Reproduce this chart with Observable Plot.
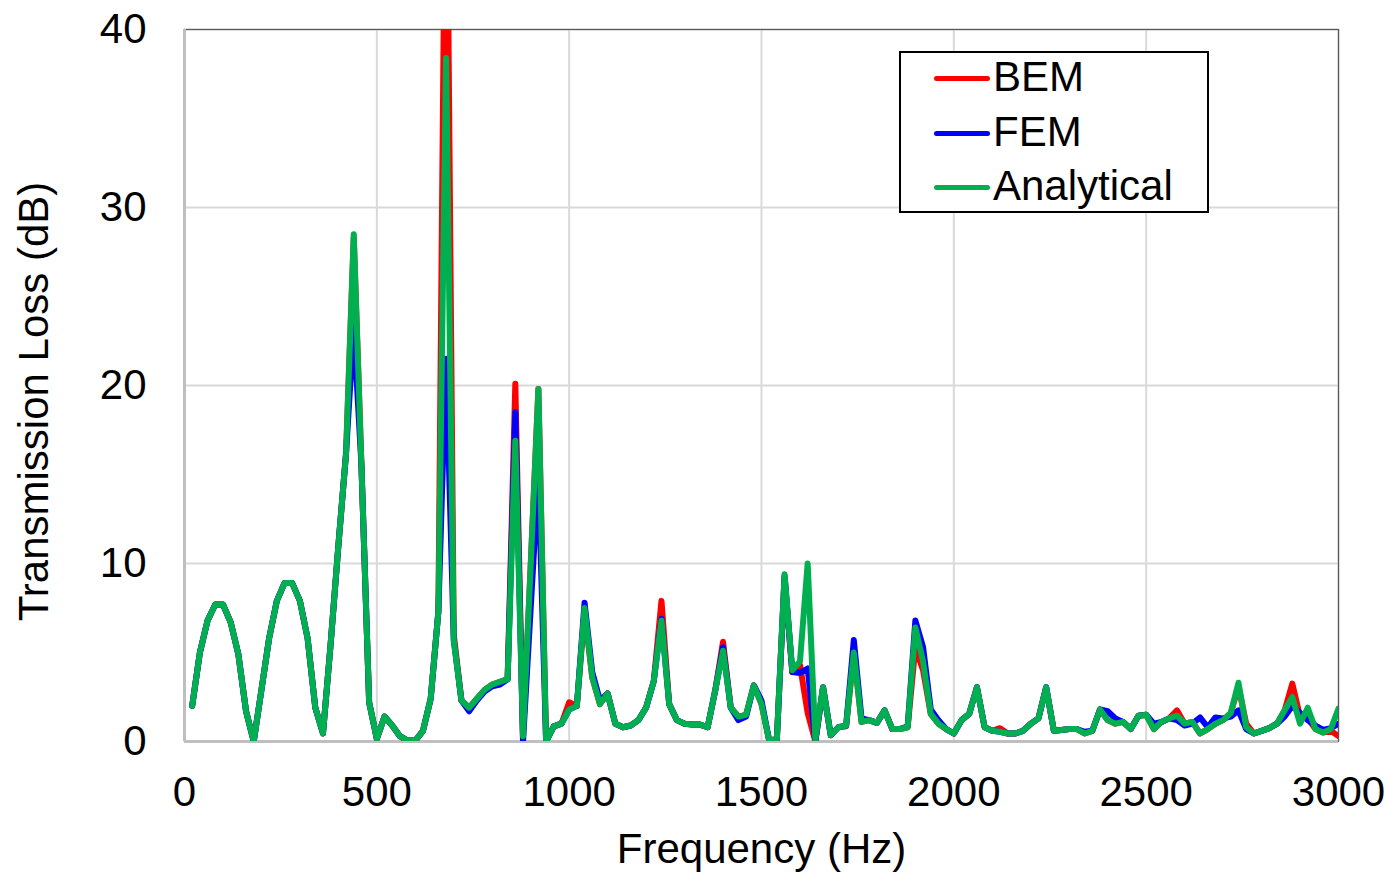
<!DOCTYPE html>
<html>
<head>
<meta charset="utf-8">
<script src="https://cdn.jsdelivr.net/npm/d3@7"></script>
<script src="https://cdn.jsdelivr.net/npm/@observablehq/plot@0.6"></script>
<style>
  html, body { margin: 0; padding: 0; background: #fff; }
  #wrap { position: relative; width: 1389px; height: 873px; font-family: "Liberation Sans", Arial, sans-serif; }
  #legend { position: absolute; left: 899px; top: 51px; width: 306px; height: 158px; border: 2px solid #000; background: #fff; box-sizing: content-box; }
  .item { position: absolute; left: 0; height: 50px; display: flex; align-items: center; }
  .swatch { position: absolute; left: 33px; width: 56px; height: 5px; border-radius: 3px; }
  .lbl { position: absolute; left: 92px; top: 2px; font-size: 42px; line-height: 42px; color: #000; white-space: nowrap; }
</style>
</head>
<body>
<div id="wrap"></div>
<script>
const frequency = [20,40,60,80,100,120,140,160,180,200,220,240,260,280,300,320,340,360,380,400,
420,440,460,480,500,520,540,560,580,600,620,640,660,680,700,720,740,760,780,800,
820,840,860,880,900,920,940,960,980,1000,1020,1040,1060,1080,1100,1120,1140,1160,1180,1200,
1220,1240,1260,1280,1300,1320,1340,1360,1380,1400,1420,1440,1460,1480,1500,1520,1540,1560,1580,1600,
1620,1640,1660,1680,1700,1720,1740,1760,1780,1800,1820,1840,1860,1880,1900,1920,1940,1960,1980,2000,
2020,2040,2060,2080,2100,2120,2140,2160,2180,2200,2220,2240,2260,2280,2300,2320,2340,2360,2380,2400,
2420,2440,2460,2480,2500,2520,2540,2560,2580,2600,2620,2640,2660,2680,2700,2720,2740,2760,2780,2800,
2820,2840,2860,2880,2900,2920,2940,2960,2980,3000];

const analytical = [2.0,5.0,6.8,7.7,7.7,6.7,4.9,1.7,0.0,2.9,5.8,7.9,8.9,8.9,7.9,5.8,1.9,0.45,5.5,11,
16.2,28.5,15.5,2.2,0.15,1.4,0.9,0.3,0.05,0.05,0.6,2.4,7.3,38.4,5.7,2.3,1.9,2.4,2.9,3.2,
3.35,3.5,16.9,0.3,9.9,19.8,0.0,0.85,1.0,1.8,2.0,7.5,3.6,2.1,2.7,1.0,0.8,0.9,1.2,1.9,
3.4,6.8,2.1,1.2,1.0,0.95,0.95,0.8,2.9,5.1,1.9,1.4,1.5,3.15,2.1,0.05,0.15,9.4,4.0,4.5,
10.0,0.1,3.05,0.35,0.8,0.9,5.0,1.1,1.2,1.05,1.75,0.7,0.7,0.8,6.4,4.5,1.55,1.0,0.7,0.45,
1.2,1.55,3.05,0.8,0.6,0.55,0.45,0.45,0.6,1.0,1.3,3.05,0.6,0.65,0.7,0.7,0.45,0.6,1.8,1.2,
1.0,1.1,0.7,1.45,1.5,0.7,1.1,1.3,1.45,1.0,1.1,0.45,0.7,1.0,1.2,1.6,3.3,0.8,0.45,0.6,
0.75,1.0,1.75,2.5,1.0,1.9,0.7,0.5,0.7,1.85];

const bem = [2.0,5.0,6.8,7.7,7.7,6.7,4.9,1.7,0.0,2.9,5.8,7.9,8.9,8.9,7.9,5.8,1.9,0.45,5.5,11,
16.2,28.3,15.5,2.2,0.15,1.4,0.9,0.3,0.05,0.05,0.6,2.4,7.3,55,6.0,2.3,1.9,2.4,2.9,3.2,
3.35,3.5,20.1,0.2,9.9,19.8,0.0,0.85,1.0,2.2,2.0,7.3,3.6,2.1,2.7,1.0,0.8,0.9,1.2,1.9,
3.4,7.9,2.1,1.2,1.0,0.95,0.95,0.8,2.9,5.6,1.9,1.4,1.5,3.15,2.1,0.05,0.15,9.2,3.9,4.3,
1.6,0.0,3.05,0.35,0.8,0.85,5.0,1.1,1.2,1.05,1.75,0.7,0.7,0.8,5.3,4.0,1.55,1.0,0.7,0.45,
1.2,1.55,3.05,0.8,0.6,0.75,0.45,0.45,0.6,1.0,1.3,3.05,0.6,0.65,0.7,0.7,0.45,0.6,1.8,1.2,
1.0,1.1,0.7,1.45,1.5,0.7,1.1,1.3,1.75,1.0,1.1,0.45,0.7,1.0,1.2,1.6,3.1,1.0,0.45,0.6,
0.75,1.0,1.75,3.25,1.4,1.3,0.7,0.5,0.6,0.3];

const fem = [2.0,5.0,6.8,7.7,7.7,6.7,4.9,1.7,0.0,2.9,5.8,7.9,8.9,8.9,7.9,5.8,1.9,0.45,5.5,11,
16.2,23.3,15.5,2.2,0.15,1.4,0.9,0.3,0.05,0.05,0.6,2.4,7.3,21.5,5.7,2.3,1.7,2.3,2.8,3.1,
3.2,3.5,18.5,0.0,7.5,15,0.0,0.85,1.0,1.8,2.0,7.8,3.9,2.3,2.7,1.0,0.8,0.9,1.2,1.9,
3.4,6.9,2.1,1.2,1.0,0.95,0.95,0.8,2.9,5.3,1.9,1.2,1.4,3.15,2.3,0.05,0.15,9.3,3.9,3.85,
4.1,0.0,3.05,0.35,0.8,0.9,5.7,1.3,1.2,1.05,1.75,0.7,0.7,0.85,6.8,5.3,1.8,1.2,0.7,0.45,
1.2,1.55,3.05,0.8,0.6,0.55,0.45,0.45,0.6,1.0,1.3,3.05,0.6,0.65,0.7,0.7,0.55,0.6,1.8,1.7,
1.3,1.1,0.7,1.45,1.5,1.0,1.1,1.3,1.2,0.9,1.0,1.35,0.8,1.35,1.3,1.4,1.75,0.7,0.45,0.6,
0.75,1.0,1.4,2.0,1.6,1.2,0.9,0.65,0.75,1.0];

const seriesNames = ["BEM", "FEM", "Analytical"];
const seriesColors = ["#ff0000", "#0000ff", "#00b050"];
const xTicks = [0, 500, 1000, 1500, 2000, 2500, 3000];
const yTicks = [0, 10, 20, 30, 40];

const seriesValues = [bem, fem, analytical];
const rows = [];
seriesNames.forEach((name, si) => {
  frequency.forEach((f, i) => rows.push({series: name, f, tl: seriesValues[si][i]}));
});

const font = "'Liberation Sans', Arial, sans-serif";

const chart = Plot.plot({
  width: 1389,
  height: 873,
  marginLeft: 184,
  marginRight: 51,
  marginTop: 29,
  marginBottom: 132,
  style: {fontFamily: font, background: "#fff", color: "#000", overflow: "visible"},
  x: {domain: [0, 3000]},
  y: {domain: [0, 40]},
  color: {domain: seriesNames, range: seriesColors},
  marks: [
    Plot.gridX(xTicks, {stroke: "#d9d9d9", strokeOpacity: 1, strokeWidth: 2}),
    Plot.gridY(yTicks, {stroke: "#d9d9d9", strokeOpacity: 1, strokeWidth: 2}),
    Plot.frame({stroke: "#595959", strokeWidth: 1.2}),
    Plot.ruleX([0], {stroke: "#bfbfbf", strokeWidth: 3}),
    Plot.ruleY([0], {stroke: "#bfbfbf", strokeWidth: 3}),
    Plot.axisX(xTicks, {tickSize: 0, tickPadding: 35, fontSize: 42, label: null, fill: "#000", tickFormat: d => String(d)}),
    Plot.axisY(yTicks, {tickSize: 0, tickPadding: 38, fontSize: 42, label: null, fill: "#000", tickFormat: d => String(d)}),
    Plot.line(rows, {x: "f", y: "tl", z: "series", stroke: "series", strokeWidth: 6,
      strokeLinejoin: "round", strokeLinecap: "round", clip: true}),
    Plot.text(["Frequency (Hz)"], {frameAnchor: "bottom", text: d => d, dy: 121, lineAnchor: "bottom",
      fontSize: 42, fill: "#000"}),
    Plot.text(["Transmission Loss (dB)"], {frameAnchor: "left", text: d => d, rotate: -90, dx: -166, dy: 16,
      textAnchor: "middle", lineAnchor: "top", fontSize: 42, fill: "#000"})
  ]
});

const wrap = document.getElementById("wrap");
wrap.appendChild(chart);

const legend = document.createElement("div");
legend.id = "legend";
seriesNames.forEach((name, i) => {
  const item = document.createElement("div");
  item.className = "item";
  item.style.top = (1 + i * 54.5) + "px";
  item.style.width = "100%";
  const sw = document.createElement("div");
  sw.className = "swatch";
  sw.style.background = seriesColors[i];
  sw.style.top = "22px";
  const lb = document.createElement("div");
  lb.className = "lbl";
  lb.textContent = name;
  item.appendChild(sw);
  item.appendChild(lb);
  legend.appendChild(item);
});
wrap.appendChild(legend);
</script>
</body>
</html>
